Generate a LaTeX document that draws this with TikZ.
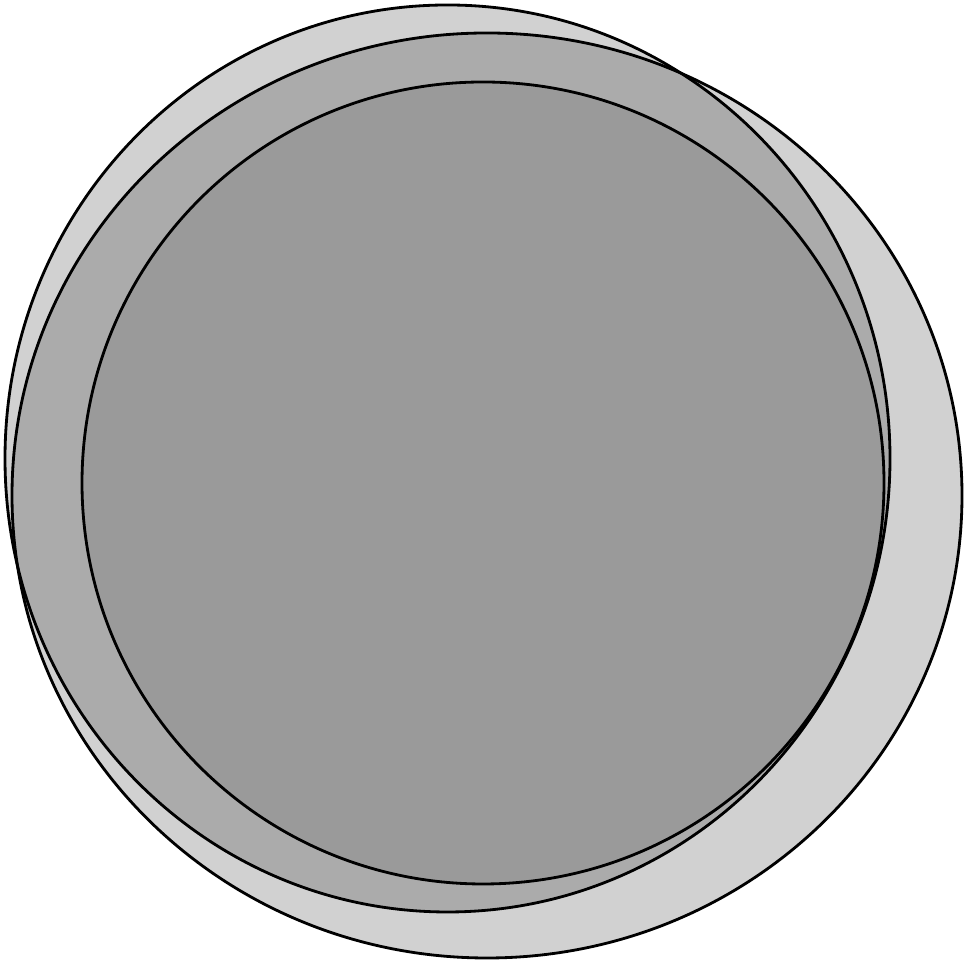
\documentclass[tikz,border=0pt]{standalone}
\usepackage{tikz}

\begin{document}
\begin{tikzpicture}[disc/.style={draw=black,line width=0.8pt,fill=black,fill opacity=0.18}]
  \useasboundingbox (0,0) rectangle (9.64,9.62);
  % outer ovals
  \draw[disc] (4.87,4.665) ellipse (4.75 and 4.625);
  \draw[disc] (4.475,5.035) ellipse (4.425 and 4.535);
  % inner circle
  \draw[disc,fill opacity=0.1] (4.83,4.79) circle (4.01);
\end{tikzpicture}
\end{document}
